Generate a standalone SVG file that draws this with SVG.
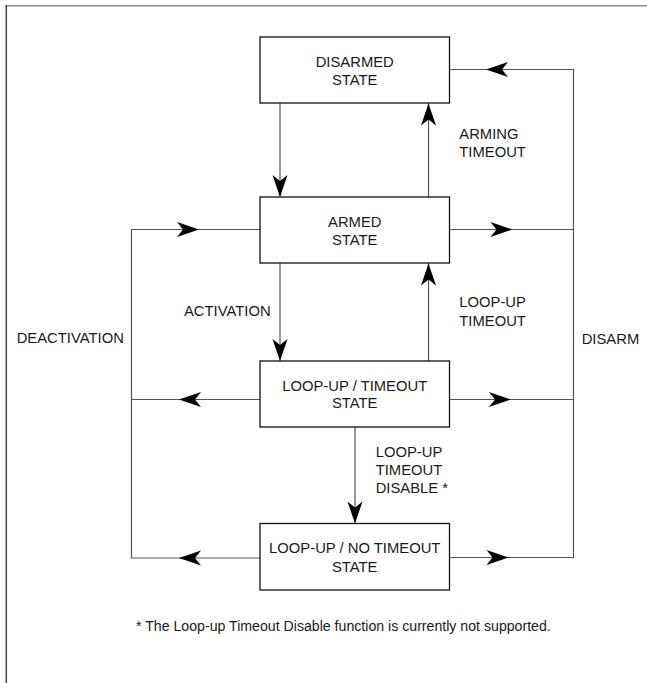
<svg xmlns="http://www.w3.org/2000/svg" xmlns:xlink="http://www.w3.org/1999/xlink" width="647" height="683" viewBox="0 0 647 683">
<style>
text{font-family:"Liberation Sans",Arial,sans-serif;font-size:14.8px;fill:#1a1a1a}
.c{text-anchor:middle}
.box{fill:#fff;stroke:#111;stroke-width:1.3}
.ln{fill:none;stroke:#555;stroke-width:1.2}
.ah{fill:#000}
</style>
<defs>
<path id="ah" class="ah" d="M0,0 L-22,-7.5 L-16,0 L-22,7.5 Z"/>
</defs>
<rect width="647" height="683" fill="#fff"/>
<line x1="5.5" y1="5.7" x2="647" y2="5.7" stroke="#888" stroke-width="1.5"/>
<line x1="6.3" y1="5" x2="6.3" y2="683" stroke="#444" stroke-width="1.5"/>
<g id="connectors">
<path class="ln" d="M280,103 V197"/>
<use xlink:href="#ah" transform="translate(280,197) rotate(90)"/>
<path class="ln" d="M428.5,197 V103"/>
<use xlink:href="#ah" transform="translate(428.5,103.5) rotate(-90)"/>
<path class="ln" d="M280,263 V361"/>
<use xlink:href="#ah" transform="translate(280,361) rotate(90)"/>
<path class="ln" d="M428.5,361 V263"/>
<use xlink:href="#ah" transform="translate(428.5,263.5) rotate(-90)"/>
<path class="ln" d="M355,427 V524"/>
<use xlink:href="#ah" transform="translate(355,523.5) rotate(90)"/>
<path class="ln" d="M449.5,69.5 H573.5 V557.5 H449.5 M449.5,229.5 H573.5 M449.5,399.5 H573.5"/>
<use xlink:href="#ah" transform="translate(486,69.5) rotate(180)"/>
<use xlink:href="#ah" transform="translate(512.5,229.5)"/>
<use xlink:href="#ah" transform="translate(511,399.5)"/>
<use xlink:href="#ah" transform="translate(508.5,557.5)"/>
<path class="ln" d="M260,229.5 H131.5 V558 H260 M131.5,399.5 H260"/>
<use xlink:href="#ah" transform="translate(199,229.5)"/>
<use xlink:href="#ah" transform="translate(179,399.5) rotate(180)"/>
<use xlink:href="#ah" transform="translate(179,558) rotate(180)"/>
</g>
<g id="disarmed">
<rect class="box" x="260" y="37" width="189.5" height="66"/>
<text class="c" x="354.75" y="67.3">DISARMED</text>
<text class="c" x="354.75" y="85">STATE</text>
</g>
<g id="armed">
<rect class="box" x="260" y="197" width="189.5" height="66"/>
<text class="c" x="354.75" y="227.3">ARMED</text>
<text class="c" x="354.75" y="245">STATE</text>
</g>
<g id="loopup-timeout">
<rect class="box" x="260" y="361" width="189.5" height="66"/>
<text class="c" x="354.75" y="390.7">LOOP-UP / TIMEOUT</text>
<text class="c" x="354.75" y="408.3">STATE</text>
</g>
<g id="loopup-notimeout">
<rect class="box" x="260" y="523.5" width="189.5" height="66.5"/>
<text class="c" x="354.75" y="553.3">LOOP-UP / NO TIMEOUT</text>
<text class="c" x="354.75" y="571.7">STATE</text>
</g>
<g id="labels">
<text x="459.3" y="139.3">ARMING</text>
<text x="459.3" y="157.3">TIMEOUT</text>
<text x="459.3" y="307.3">LOOP-UP</text>
<text x="459.3" y="325.7">TIMEOUT</text>
<text x="184" y="316">ACTIVATION</text>
<text x="16.7" y="343.3">DEACTIVATION</text>
<text x="581.7" y="344">DISARM</text>
<text x="375.7" y="456.7">LOOP-UP</text>
<text x="375.7" y="475">TIMEOUT</text>
<text x="375.7" y="492.7">DISABLE *</text>
<text x="136" y="630.7" style="font-size:14.15px">* The Loop-up Timeout Disable function is currently not supported.</text>
</g>
</svg>
